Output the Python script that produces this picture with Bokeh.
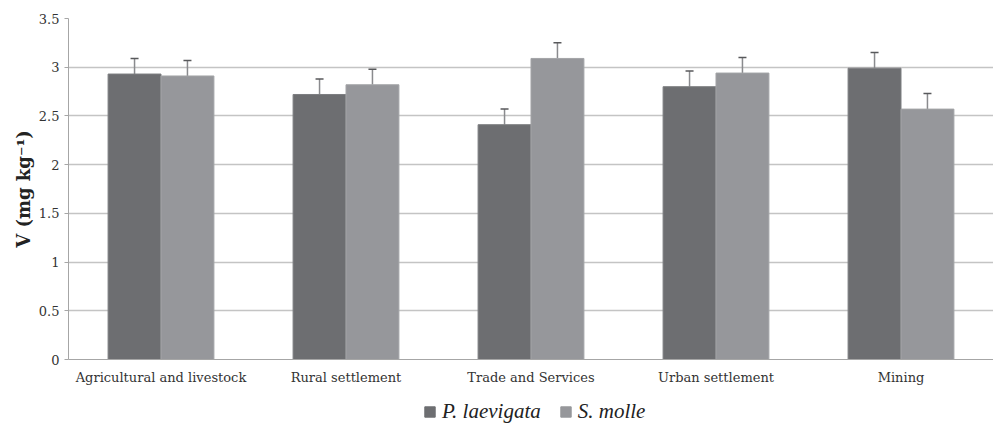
from bokeh.plotting import figure
from bokeh.layouts import column
from bokeh.models import (ColumnDataSource, Range1d, Whisker, TeeHead, Legend, LegendItem,
                          NumeralTickFormatter, FixedTicker, Title)
from bokeh.transform import dodge
from bokeh.embed import file_html
from bokeh.resources import INLINE

categories = ["Agricultural and livestock", "Rural settlement", "Trade and Services",
              "Urban settlement", "Mining"]
p_laevigata = [2.93, 2.72, 2.41, 2.80, 2.99]
p_laevigata_err = [0.16, 0.16, 0.16, 0.16, 0.16]
s_molle = [2.91, 2.82, 3.09, 2.94, 2.57]
s_molle_err = [0.16, 0.16, 0.16, 0.16, 0.16]
y_ticks = [0, 0.5, 1, 1.5, 2, 2.5, 3, 3.5]
series_names = ["P. laevigata", "S. molle"]
y_title = "V (mg kg\u207b\u00b9)"

src = ColumnDataSource(dict(
    cat=categories,
    p=p_laevigata, p_up=[v + e for v, e in zip(p_laevigata, p_laevigata_err)],
    s=s_molle, s_up=[v + e for v, e in zip(s_molle, s_molle_err)],
))

SERIF = "DejaVu Serif"
DARK = "#6d6e71"
LIGHT = "#96979b"
W = 0.286

p = figure(x_range=categories, y_range=Range1d(0, 3.5),
           width=993, height=393,
           output_backend="svg", toolbar_location=None,
           min_border_left=68, min_border_right=0, min_border_top=18, min_border_bottom=34)
p.outline_line_color = None

r1 = p.vbar(x=dodge("cat", -W / 2, range=p.x_range), top="p", width=W, source=src,
            fill_color=DARK, line_color="#7d7e81")
r2 = p.vbar(x=dodge("cat", W / 2, range=p.x_range), top="s", width=W, source=src,
            fill_color=LIGHT, line_color="#a3a4a7")

for col, off in (("p", -W / 2), ("s", W / 2)):
    wk = Whisker(source=src, base=dodge("cat", off, range=p.x_range), upper=col + "_up",
                 lower=col, line_color="#8a8b8e", line_width=1.5,
                 upper_head=TeeHead(size=8, line_color="#58595b", line_width=1.5),
                 lower_head=None)
    p.add_layout(wk)

# axes
p.yaxis.ticker = FixedTicker(ticks=y_ticks)
p.yaxis.formatter = NumeralTickFormatter(format="0.[0]")
p.yaxis.major_label_text_font = SERIF
p.yaxis.major_label_text_font_size = "13px"
p.yaxis.major_label_text_color = "#333333"
p.yaxis.axis_line_color = "#a6a6a6"
p.yaxis.major_tick_line_color = "#a6a6a6"
p.yaxis.major_tick_in = 0
p.yaxis.major_tick_out = 4
p.yaxis.minor_tick_line_color = None

ytitle = Title(text=y_title, align="center", offset=-17, standoff=4,
               text_font=SERIF, text_font_style="bold", text_font_size="18px",
               text_color="#222222")
p.add_layout(ytitle, "left")

p.xaxis.major_label_text_font = SERIF
p.xaxis.major_label_text_font_size = "13px"
p.xaxis.major_label_text_color = "#333333"
p.xaxis.axis_line_color = "#a6a6a6"
p.xaxis.major_tick_line_color = None
p.xaxis.minor_tick_line_color = None
p.xaxis.major_label_standoff = 4

p.xgrid.grid_line_color = None
p.ygrid.ticker = FixedTicker(ticks=[0.5, 1, 1.5, 2, 2.5, 3])
p.ygrid.grid_line_color = "#c4c4c4"
p.ygrid.grid_line_width = 1.3

# legend strip: same series, drawn outside its visible y-range so only the legend shows
p2 = figure(x_range=categories, y_range=Range1d(100, 101), width=993, height=32,
            output_backend="svg", toolbar_location=None,
            min_border_left=0, min_border_right=0, min_border_top=0, min_border_bottom=0)
p2.axis.visible = False
p2.grid.visible = False
p2.outline_line_color = None
l1 = p2.vbar(x="cat", top="p", width=W, source=src, fill_color=DARK, line_color=DARK)
l2 = p2.vbar(x="cat", top="s", width=W, source=src, fill_color=LIGHT, line_color=LIGHT)

legend = Legend(items=[LegendItem(label=series_names[0], renderers=[l1]),
                       LegendItem(label=series_names[1], renderers=[l2])],
                orientation="horizontal", location=(355, 1))
legend.label_text_font = "Liberation Serif"
legend.label_text_font_style = "italic"
legend.label_text_font_size = "21px"
legend.label_text_color = "#222222"
legend.glyph_width = 13
legend.glyph_height = 13
legend.label_standoff = 6
legend.spacing = 18
legend.padding = 2
legend.margin = 0
legend.border_line_color = None
legend.background_fill_alpha = 0
p2.add_layout(legend)

layout = column(p, p2, spacing=0)
open("out.html", "w").write(file_html(layout, INLINE))
